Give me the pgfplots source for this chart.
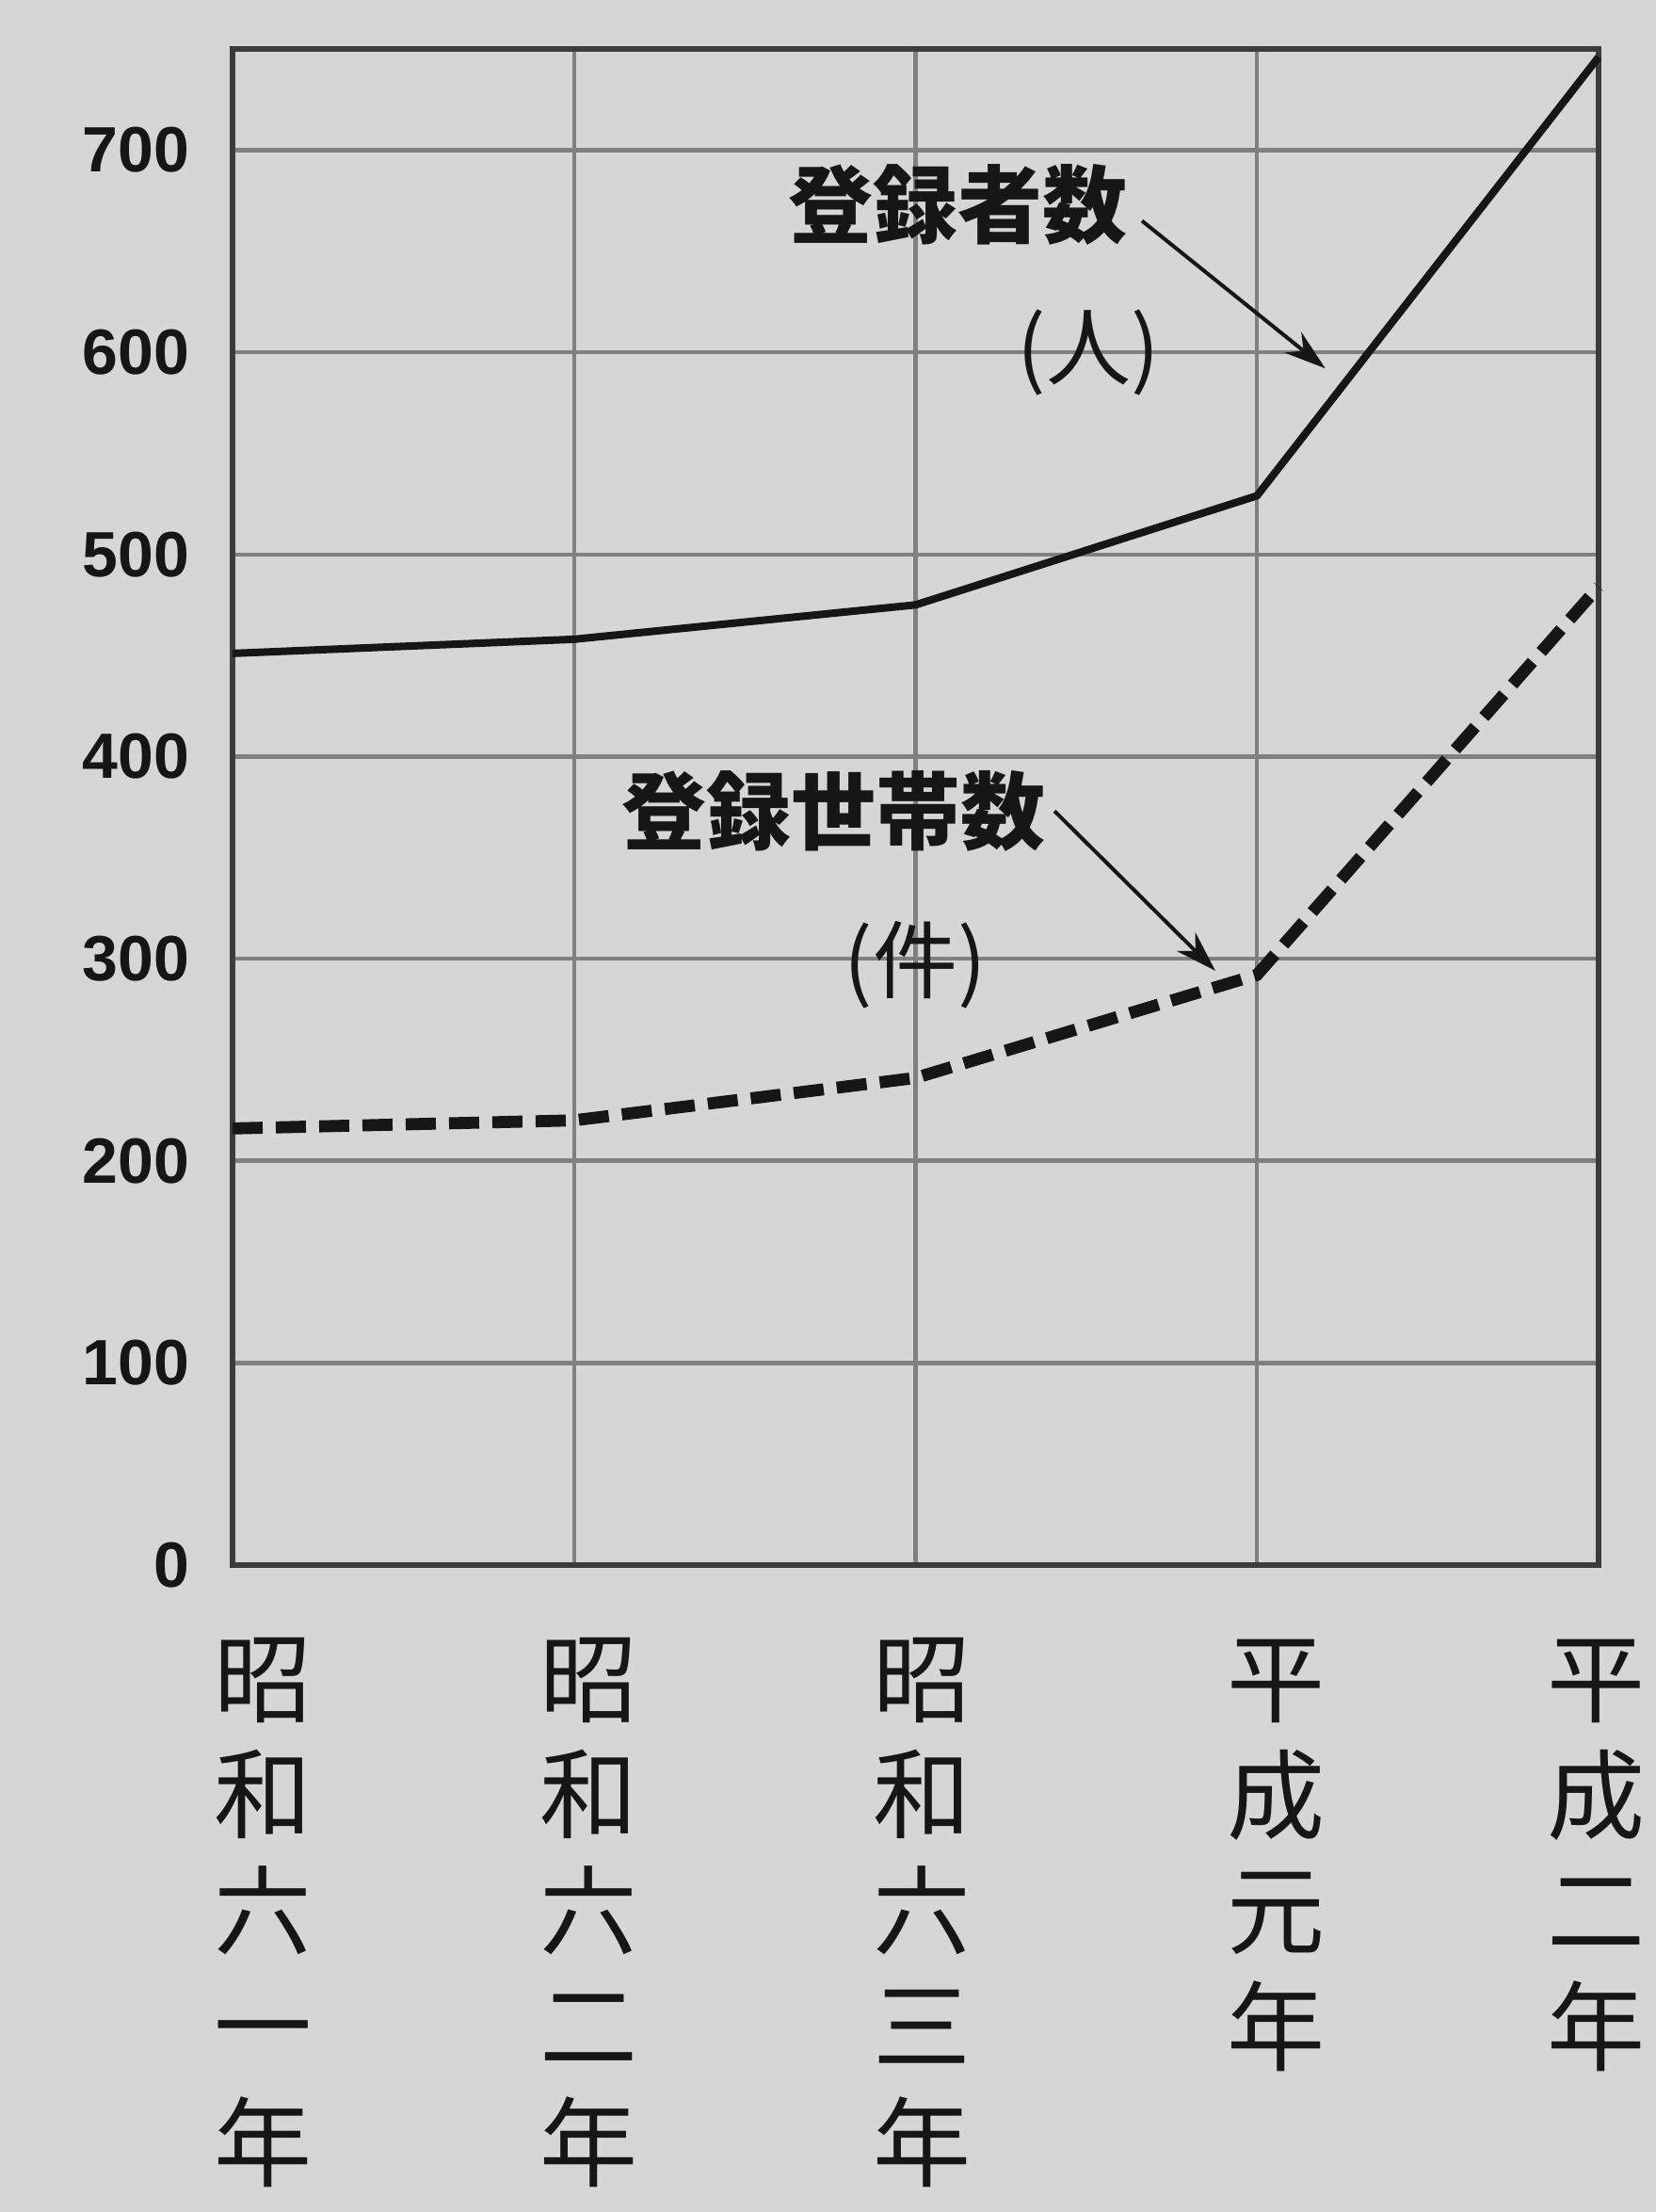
\documentclass[border=0pt]{standalone}
\usepackage{fontspec}
\setmainfont{Liberation Sans}
\newfontfamily\cjk{Noto Sans CJK JP}
\usepackage{pgfplots}
\pgfplotsset{compat=1.18}
\usetikzlibrary{arrows.meta}
\definecolor{bgcol}{RGB}{214,214,214}
\definecolor{gridcol}{RGB}{128,128,128}
\definecolor{axiscol}{RGB}{60,60,60}
\definecolor{inkcol}{RGB}{22,22,22}
\newcommand{\vlab}[2]{\hspace*{#1}\begin{tabular}{@{}c@{}}#2\end{tabular}}
\begin{document}
\begin{tikzpicture}
\fill[bgcol] (-61.75pt,-171.75pt) rectangle (378pt,415.5pt);
\begin{axis}[
  at={(0,0)}, anchor=south west,
  scale only axis,
  width=362.75pt, height=402.5pt,
  xmin=0, xmax=4, ymin=0, ymax=750,
  xtick={0,1,2,3,4},
  xticklabels={
    {\vlab{16.5pt}{昭\\和\\六\\一\\年}},
    {\vlab{8pt}{昭\\和\\六\\二\\年}},
    {\vlab{3.5pt}{昭\\和\\六\\三\\年}},
    {\vlab{10pt}{平\\成\\元\\年}},
    {\vlab{-1pt}{平\\成\\二\\年}}},
  ytick={0,100,200,300,400,500,600,700},
  grid=major,
  major grid style={draw=gridcol, line width=1.1pt},
  axis line style={draw=axiscol, line width=1.7pt},
  major tick length=0pt,
  clip=false,
  /pgf/number format/assume math mode=true,
  yticklabel style={font=\bfseries\fontsize{17}{19}\selectfont, text=inkcol, xshift=-8pt},
  xticklabel style={font=\cjk\fontsize{26}{30.5}\selectfont, anchor=north, text=inkcol, yshift=-15pt, text depth=0pt, inner xsep=0pt},
]
\addplot[inkcol, line width=2pt] coordinates {(0,451) (1,458) (2,475) (3,529) (4,746)};
\addplot[inkcol, line width=3.2pt, dash pattern=on 8pt off 3.5pt] coordinates {(0,216) (1,220) (2,241) (3,292) (4,484)};
\node[font=\cjk\bfseries\fontsize{22.5}{24}\selectfont, text=inkcol] at (axis cs:2.123,673) {登録者数};
\node[font=\cjk\fontsize{22.5}{24}\selectfont, text=inkcol] at (axis cs:2.506,600) {(人)};
\draw[inkcol, line width=1pt, -{Stealth[length=11pt,width=7pt]}] (axis cs:2.663,665) -- (axis cs:3.20,592);
\node[font=\cjk\bfseries\fontsize{22.5}{24}\selectfont, text=inkcol] at (axis cs:1.759,373) {登録世帯数};
\node[font=\cjk\fontsize{22.5}{24}\selectfont, text=inkcol] at (axis cs:1.999,297) {(件)};
\draw[inkcol, line width=1pt, -{Stealth[length=11pt,width=7pt]}] (axis cs:2.407,373) -- (axis cs:2.878,294);
\end{axis}
\end{tikzpicture}
\end{document}
